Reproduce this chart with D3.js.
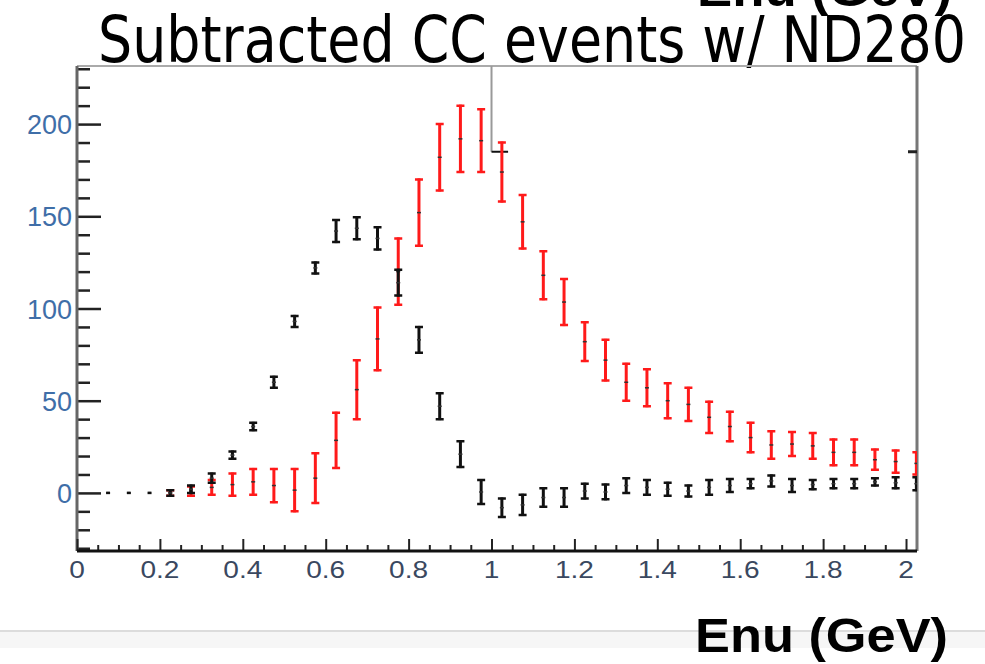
<!DOCTYPE html>
<html>
<head>
<meta charset="utf-8">
<script src="https://cdn.jsdelivr.net/npm/d3@7"></script>
<style>
  body { margin: 0; background: #fff; }
  svg { display: block; }
</style>
</head>
<body>
<div class="view1"></div>
<script>
// bin centres (GeV)
const binCenters = [0.075, 0.125, 0.175, 0.225, 0.275, 0.325, 0.375, 0.425, 0.475, 0.525,
  0.575, 0.625, 0.675, 0.725, 0.775, 0.825, 0.875, 0.925, 0.975, 1.025,
  1.075, 1.125, 1.175, 1.225, 1.275, 1.325, 1.375, 1.425, 1.475, 1.525,
  1.575, 1.625, 1.675, 1.725, 1.775, 1.825, 1.875, 1.925, 1.975, 2.025];

// black series
const blackValues = [0, 0, 0, 0, 2, 8, 20.5, 36, 60, 93,
  122, 142, 143.5, 138, 114, 83, 47, 21, 0.5, -8,
  -6.5, -2.5, -2.5, 1, 0.5, 4, 3, 2, 1, 3,
  4, 5, 6.5, 4, 4.5, 5, 5, 6, 5.5, 5];
const blackErrors = [0, 0, 0, 1.5, 2, 2.5, 2, 2, 3, 3,
  3, 6, 6, 6, 7, 7, 7, 7, 6.5, 5,
  5.5, 5, 5, 4, 4, 4, 4, 3.5, 3, 4,
  3.5, 2.5, 3, 3.5, 2.5, 2.5, 2.5, 2, 3, 3.5];

// red series
const redValues = [null, null, null, 0, 1, 3, 4.5, 6, 4, 1.5,
  8, 28.5, 56, 83.5, 120, 152, 182, 192, 191, 174,
  147, 118, 103.5, 82, 72, 60, 57, 50, 48, 41,
  36, 30, 26, 26.5, 25.5, 22, 22, 18, 17, 16];
const redErrors = [null, null, null, 1.5, 2.5, 4, 6, 7, 9, 11.5,
  13.5, 15, 16, 17, 18, 18, 18, 18, 17, 16,
  14.5, 13, 12.5, 10.5, 11, 10, 10, 9.5, 9, 8.5,
  8, 8, 7.5, 6.5, 7, 7, 7, 5.5, 6, 6];

// tick labels
const xTickValues = [0, 0.2, 0.4, 0.6, 0.8, 1, 1.2, 1.4, 1.6, 1.8, 2];
const yTickValues = [0, 50, 100, 150, 200];

const titleText = "Subtracted CC events w/ ND280";
const axisTitle = "Enu (GeV)";

class ErrorPlot {
  constructor() {
    this.width = 985;
    this.height = 664;
    // frame of the plot area
    this.frame = {left: 77, right: 917, top: 66, bottom: 551};

    this.x = d3.scaleLinear().domain([0, 2.0265]).range([this.frame.left, this.frame.right]);
    this.y = d3.scaleLinear().domain([-31.5, 231.5]).range([this.frame.bottom, this.frame.top]);
  }

  draw() {
    let svg = d3.select(".view1").append("svg")
      .attr("width", this.width)
      .attr("height", this.height)
      .style("font-family", "'Liberation Sans', Arial, sans-serif");

    svg.append("rect").attr("width", this.width).attr("height", this.height).attr("fill", "#fff");

    // slide strip at the bottom
    svg.append("rect").attr("x", 0).attr("y", 631).attr("width", this.width).attr("height", 17).attr("fill", "#f6f6f6");
    svg.append("line").attr("x1", 0).attr("x2", this.width).attr("y1", 631).attr("y2", 631)
      .attr("stroke", "#dcdcdc").attr("stroke-width", 2);

    // cut off label at the very top
    svg.append("text").attr("x", 697).attr("y", 6)
      .attr("font-size", 48).attr("font-weight", "bold")
      .attr("textLength", 255).attr("lengthAdjust", "spacingAndGlyphs")
      .text(axisTitle);

    // title
    svg.append("text").attr("x", 98).attr("y", 62)
      .attr("font-family", "'Liberation Sans Narrow', 'DejaVu Sans Condensed', 'Liberation Sans', sans-serif")
      .attr("font-size", 64)
      .attr("textLength", 868).attr("lengthAdjust", "spacingAndGlyphs")
      .text(titleText);

    let f = this.frame;

    // frame: top and right are grey, left dark, bottom black
    svg.append("line").attr("x1", f.left).attr("x2", f.right).attr("y1", f.top).attr("y2", f.top)
      .attr("stroke", "#aaa").attr("stroke-width", 2);
    svg.append("line").attr("x1", f.right).attr("x2", f.right).attr("y1", f.top).attr("y2", f.bottom)
      .attr("stroke", "#777").attr("stroke-width", 3);

    // stray lines left over from the pasted plot
    svg.append("path")
      .attr("d", `M${this.x(1.0)},${f.top}V${this.y(185)}`)
      .attr("stroke", "#999").attr("stroke-width", 2).attr("fill", "none");
    svg.append("line").attr("x1", this.x(1.0)).attr("x2", this.x(1.04))
      .attr("y1", this.y(185)).attr("y2", this.y(185))
      .attr("stroke", "#111").attr("stroke-width", 2);
    svg.append("line").attr("x1", f.right - 9).attr("x2", f.right)
      .attr("y1", this.y(185)).attr("y2", this.y(185))
      .attr("stroke", "#222").attr("stroke-width", 3);

    // y axis: minor ticks every 10, long ones every 50
    let yMinor = d3.range(-30, 231, 10);
    let yAxis = d3.axisRight(this.y).tickValues(yMinor).tickSize(13).tickFormat("");
    let gy = svg.append("g").attr("transform", `translate(${f.left},0)`).call(yAxis);
    gy.select(".domain").remove();
    gy.selectAll(".tick line").attr("stroke", "#222").attr("stroke-width", 2.5)
      .attr("x2", d => d % 50 === 0 ? 24 : 13);
    svg.append("line").attr("x1", f.left).attr("x2", f.left).attr("y1", f.top).attr("y2", f.bottom)
      .attr("stroke", "#666").attr("stroke-width", 3);

    svg.append("g").selectAll("text")
      .data(yTickValues)
      .join("text")
      .attr("x", 72)
      .attr("y", d => this.y(d) + 10)
      .attr("text-anchor", "end")
      .attr("font-size", 27)
      .attr("fill", "#3f6ea8")
      .text(d => d);

    // x axis: minor ticks every 0.05, long ones every 0.2
    let xMinor = d3.range(0, 41).map(i => i * 0.05);
    let xAxis = d3.axisTop(this.x).tickValues(xMinor).tickSize(6).tickFormat("");
    let gx = svg.append("g").attr("transform", `translate(0,${f.bottom})`).call(xAxis);
    gx.select(".domain").remove();
    gx.selectAll(".tick line").attr("stroke", "#222").attr("stroke-width", 2)
      .attr("y2", (d, i) => i % 4 === 0 ? -12 : -6);
    svg.append("line").attr("x1", f.left).attr("x2", f.right).attr("y1", f.bottom).attr("y2", f.bottom)
      .attr("stroke", "#111").attr("stroke-width", 3);

    svg.append("g").selectAll("text")
      .data(xTickValues)
      .join("text")
      .attr("transform", d => `translate(${this.x(d)},578) scale(1.22,1)`)
      .attr("text-anchor", "middle")
      .attr("font-size", 23)
      .attr("fill", "#3a4860")
      .text(d => d);

    // clip the data to the frame
    svg.append("clipPath").attr("id", "plotClip")
      .append("rect").attr("x", f.left).attr("y", f.top).attr("width", f.right - f.left).attr("height", f.bottom - f.top);

    let blackData = binCenters.map((c, i) => ({x: c, v: blackValues[i], e: blackErrors[i]}));
    let redData = binCenters.map((c, i) => ({x: c, v: redValues[i], e: redErrors[i]})).filter(d => d.v !== null);

    this.drawSeries(svg, redData, "#ff1a1a", 3);
    this.drawSeries(svg, blackData, "#111", 3);

    // bottom axis title
    svg.append("text").attr("x", 695).attr("y", 652)
      .attr("font-size", 48).attr("font-weight", "bold")
      .attr("textLength", 253).attr("lengthAdjust", "spacingAndGlyphs")
      .text(axisTitle);
  }

  // error bars with caps and a small centre mark
  drawSeries(svg, data, colour, width) {
    let g = svg.append("g").attr("clip-path", "url(#plotClip)");
    let cap = 4;

    let bars = g.selectAll("g").data(data).join("g");
    bars.append("line")
      .attr("x1", d => this.x(d.x)).attr("x2", d => this.x(d.x))
      .attr("y1", d => this.y(d.v - d.e) + 1).attr("y2", d => this.y(d.v + d.e) - 1)
      .attr("stroke", colour).attr("stroke-width", width);
    bars.filter(d => d.e > 0).append("path")
      .attr("d", d => `M${this.x(d.x) - cap},${this.y(d.v + d.e)}H${this.x(d.x) + cap}` +
        `M${this.x(d.x) - cap},${this.y(d.v - d.e)}H${this.x(d.x) + cap}`)
      .attr("stroke", colour).attr("stroke-width", 2.5).attr("fill", "none");
    bars.append("line")
      .attr("x1", d => this.x(d.x) - 2).attr("x2", d => this.x(d.x) + 2)
      .attr("y1", d => this.y(d.v)).attr("y2", d => this.y(d.v))
      .attr("stroke", d => d.e > 0 ? "#333" : colour).attr("stroke-width", d => d.e > 0 ? 1.5 : 2.5);
  }
}

let plot = new ErrorPlot();
plot.draw();
</script>
</body>
</html>
